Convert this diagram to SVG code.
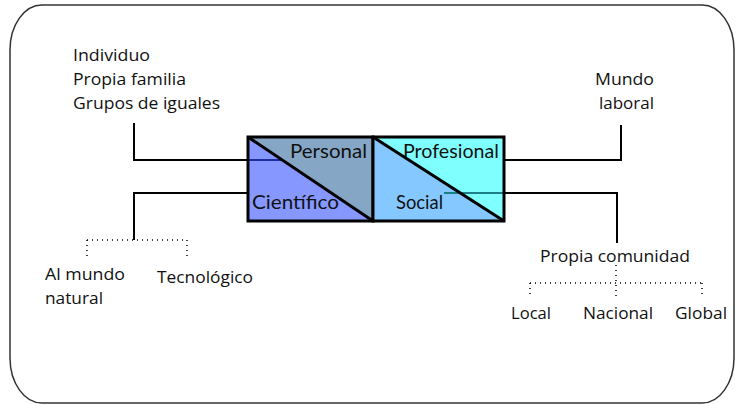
<svg xmlns="http://www.w3.org/2000/svg" width="744" height="404" viewBox="0 0 744 404">
  <style>
    .lbl { font-family: "Open Sans", "Noto Sans", "Liberation Sans", sans-serif; font-size: 16px; fill: #111; }
    .box-lbl { font-family: Lato, "Noto Sans", "Liberation Sans", sans-serif; font-size: 20px; fill: #111; }
    .link { stroke: #000; stroke-width: 2; fill: none; }
    .dot { stroke: #000; stroke-width: 1.5; fill: none; stroke-dasharray: 1 4; }
    .frame { stroke: #000; stroke-width: 3; fill: none; }
  </style>
  <rect width="744" height="404" fill="#fff"/>
  <!-- outer rounded frame -->
  <path d="M42 5 H702 A32 45 0 0 1 734 50 V358 A32 45 0 0 1 702 403 H42 A32 45 0 0 1 10 358 V50 A32 45 0 0 1 42 5 Z" fill="none" stroke="#333" stroke-width="1.5"/>

  <g id="connectors">
    <polyline class="link" points="134,123 134,160 248,160"/>
    <polyline class="link" points="134,240 134,193 248,193"/>
    <polyline class="link" points="621,125 621,160 504,160"/>
    <polyline class="link" points="617,243 617,193 504,193"/>
    <path class="dot" d="M87 240 H187 M87 240 V256 M187 240 V256"/>
    <path class="dot" d="M616 265 V296 M530 283 H702 M530 283 V296 M702 283 V296"/>
  </g>

  <g id="box-personal-cientifico">
    <polygon points="248,137 373,137 373,221" fill="#86A6C6"/>
    <polygon points="248,137 373,221 248,221" fill="#8698FF"/>
    <line x1="249" y1="160" x2="282" y2="160" stroke="#1E2E9E" stroke-width="2"/>
    <line x1="248" y1="137" x2="373" y2="221" stroke="#000" stroke-width="3"/>
    <rect class="frame" x="248" y="137" width="125" height="84"/>
    <text class="box-lbl" x="290" y="158" textLength="77" lengthAdjust="spacingAndGlyphs">Personal</text>
    <text class="box-lbl" x="252" y="209" textLength="87" lengthAdjust="spacingAndGlyphs">Científico</text>
  </g>

  <g id="box-profesional-social">
    <polygon points="373,137 504,137 504,221" fill="#80FFFF"/>
    <polygon points="373,137 504,221 373,221" fill="#84C8FF"/>
    <line x1="444" y1="193" x2="503" y2="193" stroke="#1A7F86" stroke-width="2"/>
    <line x1="373" y1="137" x2="504" y2="221" stroke="#000" stroke-width="3"/>
    <rect class="frame" x="373" y="137" width="131" height="84"/>
    <text class="box-lbl" x="403" y="158" textLength="96" lengthAdjust="spacingAndGlyphs">Profesional</text>
    <text class="box-lbl" x="396" y="209" textLength="47" lengthAdjust="spacingAndGlyphs">Social</text>
  </g>

  <g id="personal-context">
    <text class="lbl" x="73" y="61" textLength="77" lengthAdjust="spacingAndGlyphs">Individuo</text>
    <text class="lbl" x="73" y="85" textLength="113" lengthAdjust="spacingAndGlyphs">Propia familia</text>
    <text class="lbl" x="73" y="109" textLength="147" lengthAdjust="spacingAndGlyphs">Grupos de iguales</text>
  </g>
  <g id="profesional-context">
    <text class="lbl" x="595" y="85" textLength="59" lengthAdjust="spacingAndGlyphs">Mundo</text>
    <text class="lbl" x="599" y="109" textLength="55" lengthAdjust="spacingAndGlyphs">laboral</text>
  </g>
  <g id="cientifico-context">
    <text class="lbl" x="45" y="280" textLength="80" lengthAdjust="spacingAndGlyphs">Al mundo</text>
    <text class="lbl" x="45" y="304" textLength="58" lengthAdjust="spacingAndGlyphs">natural</text>
    <text class="lbl" x="157" y="283" textLength="96" lengthAdjust="spacingAndGlyphs">Tecnológico</text>
  </g>
  <g id="social-context">
    <text class="lbl" x="540" y="262" textLength="150" lengthAdjust="spacingAndGlyphs">Propia comunidad</text>
    <text class="lbl" x="511" y="319" textLength="40" lengthAdjust="spacingAndGlyphs">Local</text>
    <text class="lbl" x="583" y="319" textLength="70" lengthAdjust="spacingAndGlyphs">Nacional</text>
    <text class="lbl" x="675" y="319" textLength="52" lengthAdjust="spacingAndGlyphs">Global</text>
  </g>
</svg>
